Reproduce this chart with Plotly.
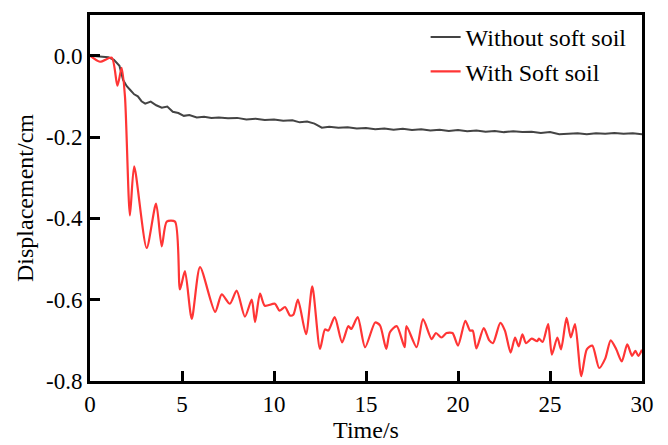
import plotly.graph_objects as go

# Without soft soil (gray)
t_gray = [0, 0.5, 1.0, 1.3, 1.6, 1.8, 2.0, 2.2, 2.4, 2.6, 2.8, 3.0, 3.3, 3.6, 3.9, 4.2, 4.5, 4.8,
          5.1, 5.4, 5.8, 6.2, 6.6, 7.0, 7.5, 8.0, 8.5, 9.0, 9.5, 10.0, 10.5, 11.0, 11.4, 11.8,
          12.2, 12.6, 13.0, 13.5, 14, 14.5, 15, 15.5, 16, 16.5, 17, 17.5, 18, 18.5, 19, 19.5,
          20, 20.5, 21, 21.5, 22, 22.5, 23, 23.5, 24, 24.5, 25, 25.5, 26, 26.5, 27, 27.5, 28,
          28.5, 29, 29.5, 30]
d_gray = [0.000, -0.002, -0.004, -0.010, -0.025, -0.060, -0.075, -0.085, -0.095, -0.100, -0.112,
          -0.118, -0.113, -0.122, -0.128, -0.125, -0.138, -0.141, -0.148, -0.146, -0.152, -0.150,
          -0.153, -0.152, -0.154, -0.153, -0.157, -0.155, -0.158, -0.157, -0.160, -0.159, -0.164,
          -0.162, -0.167, -0.177, -0.175, -0.177, -0.176, -0.179, -0.178, -0.181, -0.179, -0.182,
          -0.180, -0.183, -0.181, -0.184, -0.182, -0.185, -0.183, -0.186, -0.184, -0.187, -0.185,
          -0.188, -0.186, -0.188, -0.187, -0.190, -0.188, -0.193, -0.192, -0.191, -0.193, -0.191,
          -0.192, -0.190, -0.192, -0.191, -0.193]

# With soft soil (red)
t_red = [0, 0.54, 1.18, 1.49, 1.72, 1.9, 2.17, 2.4, 3.08, 3.59, 3.9, 4.17, 4.62, 4.89, 5.16, 5.53,
         5.98, 6.8, 7.16, 7.6, 7.97, 8.42, 8.79, 8.97, 9.24, 9.5, 10.05, 10.3, 10.6, 10.87, 11.05,
         11.3, 11.74, 12.08, 12.5, 12.77, 12.95, 13.3, 13.7, 14.04, 14.2, 14.55, 14.95, 15.5,
         15.76, 16.1, 16.3, 16.67, 17.1, 17.2, 17.75, 18.1, 18.57, 18.8, 19.1, 19.38, 19.7, 20.0,
         20.4, 20.65, 20.8, 21.0, 21.4, 21.7, 21.9, 22.3, 22.55, 22.86, 23.1, 23.3, 23.5, 23.7,
         24.0, 24.3, 24.4, 24.6, 24.9, 25.1, 25.4, 25.6, 25.9, 26.13, 26.36, 26.7, 27.0, 27.3,
         27.67, 28.0, 28.3, 28.6, 28.9, 29.2, 29.46, 29.64, 29.8, 30.0]
d_red = [0.000, -0.015, -0.005, -0.074, -0.030, -0.100, -0.393, -0.272, -0.473, -0.364, -0.469,
         -0.408, -0.408, -0.575, -0.530, -0.647, -0.520, -0.630, -0.587, -0.610, -0.578, -0.642,
         -0.600, -0.655, -0.585, -0.615, -0.610, -0.627, -0.618, -0.639, -0.637, -0.600, -0.685,
         -0.567, -0.721, -0.673, -0.676, -0.643, -0.705, -0.665, -0.672, -0.643, -0.717, -0.656,
         -0.663, -0.721, -0.680, -0.665, -0.717, -0.665, -0.717, -0.648, -0.697, -0.682, -0.693,
         -0.682, -0.682, -0.713, -0.652, -0.676, -0.676, -0.720, -0.670, -0.700, -0.707, -0.657,
         -0.676, -0.730, -0.693, -0.715, -0.685, -0.707, -0.696, -0.702, -0.696, -0.704, -0.660,
         -0.735, -0.693, -0.722, -0.645, -0.693, -0.660, -0.788, -0.722, -0.713, -0.768, -0.745,
         -0.700, -0.722, -0.752, -0.710, -0.738, -0.726, -0.738, -0.723]

x_ticks = [0, 5, 10, 15, 20, 25, 30]
y_ticks = [0.0, -0.2, -0.4, -0.6, -0.8]
y_tick_text = ["0.0", "-0.2", "-0.4", "-0.6", "-0.8"]

FONT = "Liberation Serif, Times New Roman, serif"

fig = go.Figure()
fig.add_trace(go.Scatter(x=t_gray, y=d_gray, mode="lines", name="Without soft soil",
                         line=dict(color="#444444", width=2)))
fig.add_trace(go.Scatter(x=t_red, y=d_red, mode="lines", name="With Soft soil",
                         line=dict(color="#ff3535", width=2.2, shape="spline", smoothing=0.7)))

axis_common = dict(showline=True, linecolor="black", linewidth=3, mirror=True,
                   ticks="inside", ticklen=10, tickwidth=3, tickcolor="black",
                   showgrid=False, zeroline=False,
                   tickfont=dict(family=FONT, size=23, color="black"))

fig.update_layout(
    width=668, height=445,
    margin=dict(l=90, r=26, t=12, b=62),
    paper_bgcolor="white", plot_bgcolor="white",
    font=dict(family=FONT, size=23, color="black"),
    showlegend=True,
    legend=dict(x=0.608, y=1.0, xanchor="left", yanchor="top",
                bgcolor="rgba(0,0,0,0)", font=dict(family=FONT, size=24),
                tracegroupgap=0),
    xaxis=dict(range=[0, 30], tickvals=x_ticks,
               title=dict(text="Time/s", font=dict(family=FONT, size=24), standoff=0),
               **axis_common),
    yaxis=dict(range=[-0.8, 0.1], tickvals=y_ticks, ticktext=y_tick_text,
               title=dict(text="Displacement/cm", font=dict(family=FONT, size=24), standoff=6),
               **axis_common),
)

fig.write_html("out.html")
